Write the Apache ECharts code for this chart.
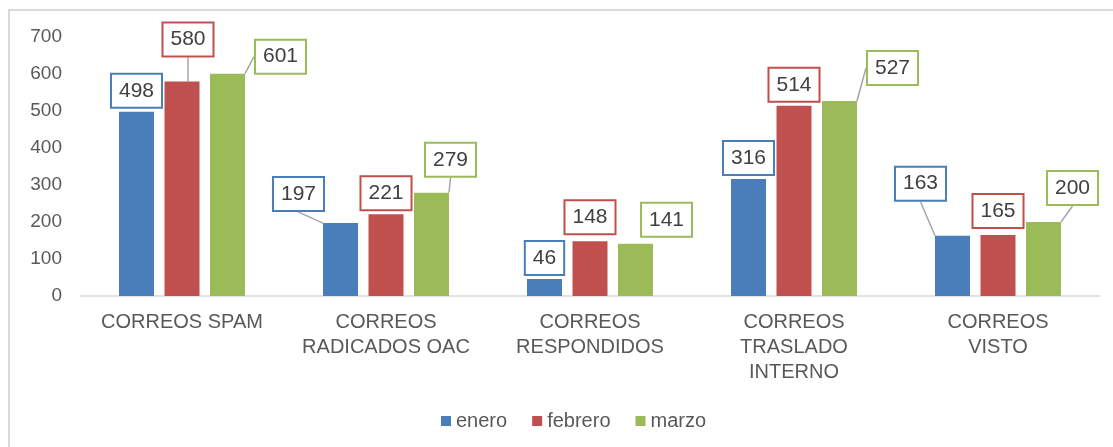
<!DOCTYPE html>
<html>
<head>
<meta charset="utf-8">
<script src="https://cdn.jsdelivr.net/npm/echarts@6/dist/echarts.min.js"></script>
<style>
html,body{margin:0;padding:0;background:#fff;}
#chart{width:1113px;height:447px;}
</style>
</head>
<body>
<div id="chart"></div>
<script>
// ---- data ----
var categories = ['CORREOS SPAM', 'CORREOS\nRADICADOS OAC', 'CORREOS\nRESPONDIDOS', 'CORREOS\nTRASLADO\nINTERNO', 'CORREOS\nVISTO'];
var seriesNames = ['enero', 'febrero', 'marzo'];
var enero = [498, 197, 46, 316, 163];
var febrero = [580, 221, 148, 514, 165];
var marzo = [601, 279, 141, 527, 200];
var yTicks = [0, 100, 200, 300, 400, 500, 600, 700];

// ---- label placement (styling, not data) ----
var labelOffsets = [
  [[0,0],[-42,-8],[0,0],[0,0],[-32,-31]],
  [[6,-21],[0,0],[0,-3],[0,0],[0,-3]],
  [[53,4],[19,-12],[31,-3],[53,-12],[29,-13]]
];
var leaderShown = [
  [false,true,false,false,true],
  [true,false,false,false,false],
  [true,true,false,true,true]
];
var colors = ['#4a7ebb', '#c0504d', '#9bbb59'];
var values = [enero, febrero, marzo];
var FONT = 'Liberation Sans, Arial, sans-serif';

var chart = echarts.init(document.getElementById('chart'));

var series = seriesNames.map(function (name, s) {
  return {
    name: name,
    type: 'bar',
    barWidth: 35,
    barGap: '30%',
    itemStyle: { color: colors[s] },
    data: values[s].map(function (v, i) {
      return { value: v, labelLine: { show: leaderShown[s][i] } };
    }),
    label: {
      show: true,
      position: 'top',
      distance: 5,
      color: '#404040',
      fontSize: 21,
      fontFamily: FONT,
      lineHeight: 22,
      backgroundColor: '#fff',
      borderColor: colors[s],
      borderWidth: 2,
      padding: [5, 7]
    },
    labelLine: {
      show: true,
      lineStyle: { color: '#a6a6a6', width: 1.5 }
    },
    labelLayout: function (p) {
      var o = labelOffsets[s][p.dataIndex];
      return { dx: o[0], dy: o[1] };
    }
  };
});

chart.setOption({
  animation: false,
  backgroundColor: '#fff',
  graphic: [{
    type: 'rect',
    shape: { x: 9, y: 10, width: 1200, height: 500 },
    style: { fill: 'none', stroke: '#d9d9d9', lineWidth: 2 },
    silent: true
  }],
  grid: { left: 80, right: 13, top: 37, bottom: 151 },
  legend: {
    data: seriesNames,
    left: 436,
    top: 406,
    itemWidth: 10,
    itemHeight: 10,
    itemGap: 25,
    icon: 'rect',
    textStyle: { color: '#595959', fontSize: 20, fontFamily: FONT }
  },
  xAxis: {
    type: 'category',
    data: categories,
    axisLine: { lineStyle: { color: '#d9d9d9', width: 1.5 } },
    axisTick: { show: false },
    axisLabel: {
      color: '#595959',
      fontSize: 20,
      lineHeight: 25,
      margin: 14,
      interval: 0,
      fontFamily: FONT
    }
  },
  yAxis: {
    type: 'value',
    min: yTicks[0],
    max: yTicks[yTicks.length - 1],
    interval: yTicks[1] - yTicks[0],
    splitLine: { show: false },
    axisLine: { show: false },
    axisTick: { show: false },
    axisLabel: {
      color: '#595959',
      fontSize: 19,
      margin: 18,
      fontFamily: FONT
    }
  },
  series: series
});
</script>
</body>
</html>
